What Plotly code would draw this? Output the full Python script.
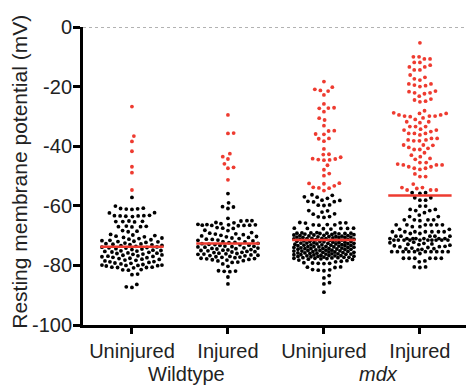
import numpy as np
import plotly.graph_objects as go

# ---------------- data (mV) ----------------
categories = ["Uninjured", "Injured", "Uninjured", "Injured"]
genotypes = ["Wildtype", "mdx"]
y_tick_values = [0, -20, -40, -60, -80, -100]
y_tick_labels = ["0", "-20", "-40", "-60", "-80", "-100"]

wt_uninjured_red = [-26.7, -36.6, -38.4, -41.7, -46.9, -48.9, -54.7]
wt_uninjured_black = [
    -57.2, -60.1, -60.8, -61.0, -61.1, -61.2, -60.9, -62.3, -62.4,
    -63.2, -63.3, -63.4, -63.4, -63.5, -63.6, -63.3, -65.1, -65.2, -65.3, -65.4, -65.3,
    -66.9, -67.0, -67.1, -67.0, -66.8, -68.3, -68.5, -68.7,
    -69.6, -69.8, -70.0, -70.2, -70.4, -70.6, -70.8, -71.0, -71.2, -71.4, -71.6,
    -71.7, -71.9, -72.0, -72.1, -72.3, -72.5, -72.7,
    -72.8, -72.9, -73.0, -73.1, -73.3, -73.4, -73.6, -73.8,
    -73.9, -74.0, -74.1, -74.2, -74.4, -74.5, -74.7, -74.9,
    -75.0, -75.1, -75.2, -75.3, -75.5, -75.6, -75.8, -75.9,
    -76.0, -76.2, -76.3, -76.5, -76.6, -76.8, -76.9,
    -77.0, -77.1, -77.3, -77.4, -77.6, -77.7, -77.9,
    -78.0, -78.2, -78.3, -78.5, -78.7, -78.8,
    -79.0, -79.2, -79.3, -79.5, -79.7,
    -79.9, -80.0, -80.0, -80.1, -79.9, -80.2,
    -80.6, -80.7, -80.8, -80.7, -80.6, -81.4, -81.5, -81.6,
    -82.9, -83.1, -86.4, -87.2, -87.4,
]

wt_injured_red = [-29.5, -35.6, -35.7, -42.5, -43.5, -44.3, -45.9, -47.1, -47.4, -51.3]
wt_injured_black = [
    -55.9, -59.0, -60.3, -60.4, -60.9,
    -64.2, -65.0, -65.0, -65.1, -65.6, -65.7, -66.0, -66.2, -66.3,
    -66.4, -66.5, -66.6, -66.5, -66.7, -66.6, -66.4,
    -67.3, -67.5, -67.6, -68.2, -68.3,
    -69.0, -69.2, -69.4, -69.5, -69.7, -69.9,
    -70.1, -70.3, -70.4, -70.6, -70.8, -71.0,
    -71.2, -71.3, -71.5, -71.6, -71.8, -72.0, -72.1,
    -72.3, -72.4, -72.6, -72.7, -72.9, -73.0, -73.2, -73.3,
    -73.5, -73.6, -73.8, -73.9, -74.1, -74.2, -74.4, -74.5,
    -74.7, -74.8, -75.0, -75.1, -75.3, -75.4, -75.6, -75.7,
    -75.9, -76.0, -76.2, -76.3, -76.5, -76.6, -76.8,
    -77.0, -77.1, -77.3, -77.4, -77.6, -77.8, -78.0, -78.2, -78.4,
    -73.1, -73.7, -74.3, -74.9, -75.5, -76.1, -76.7, -77.2, -77.7, -78.1, -78.5, -79.5,
    -78.9, -79.0, -80.3, -81.8, -81.9, -82.0, -82.1, -83.9, -86.2,
]

mdx_uninjured_red = [
    -18.3, -20.9, -21.5, -20.2, -21.3, -22.8, -25.8, -27.2, -27.1, -27.3, -28.4,
    -31.2, -30.6, -33.1, -34.8, -34.9, -35.9, -36.0, -37.4, -37.5, -38.3, -40.9,
    -42.7, -42.8, -43.7, -44.2, -44.3, -44.6, -44.5, -44.7, -46.4, -47.9, -49.2,
    -49.9, -52.5, -52.4, -52.6, -53.3, -53.8, -54.1, -54.0, -54.9,
]
mdx_uninjured_black = [
    -56.3, -56.5, -57.0, -57.1, -57.5, -58.1, -58.2, -58.5, -58.6, -58.7, -59.7,
    -59.8, -59.9, -61.6, -61.7, -62.1, -62.7, -62.8, -63.6, -63.7, -63.9, -65.6,
    -65.7, -65.7, -65.8, -66.3, -66.4, -66.4, -66.5,
    -67.5, -67.6, -67.6, -67.7, -67.5, -67.6, -67.8,
    -69.1, -69.2, -69.2, -69.3, -69.1, -69.0, -69.3, -69.2, -69.4, -69.1,
    -69.5, -69.6, -69.7, -69.8, -69.9, -70.0, -70.1, -70.2, -70.3, -70.4,
    -70.5, -70.6, -70.7, -70.8, -70.9, -71.0, -71.1, -71.2, -71.3, -71.4,
    -71.5, -71.6, -70.0, -70.3, -70.6, -70.9, -71.2, -71.5, -69.8, -70.5, -71.0,
    -71.8, -71.9, -72.0, -72.1, -72.2, -72.3, -72.4, -72.5, -72.6, -72.7,
    -72.8, -72.9, -73.0, -73.1, -73.2, -73.3, -73.4, -73.5, -73.6, -73.7,
    -73.8, -73.9, -74.0, -74.1, -74.2, -74.3, -74.4, -74.5, -74.6, -74.7,
    -74.8, -74.9, -75.0, -75.1, -75.2, -75.3, -75.4, -75.5, -75.6, -75.7,
    -75.8, -75.9, -76.0, -76.1, -76.2, -76.3, -76.4, -76.5, -76.6, -76.7,
    -76.8, -76.9, -77.0, -77.1, -77.2, -77.3, -77.4, -77.5, -77.6, -77.7,
    -77.8, -77.9, -78.0, -78.2, -78.4, -78.6, -78.8,
    -71.9, -72.2, -72.5, -72.8, -73.1, -73.4, -73.7, -74.0, -74.3, -74.6,
    -74.9, -75.2, -75.5, -75.8, -76.1, -76.4, -76.7, -77.0, -77.3, -77.6,
    -72.0, -72.6, -73.2, -73.8, -74.4, -75.0, -75.6, -76.2, -76.8, -77.4,
    -79.3, -79.2, -79.4, -79.3, -79.1, -80.6, -80.5, -80.7, -81.5, -81.4, -81.6,
    -81.8, -83.4, -84.2, -85.8, -86.2, -89.0,
]

mdx_injured_red = [
    -5.3, -10.0, -10.0, -10.7, -10.7, -11.9, -11.9, -12.8, -13.4, -13.4,
    -14.4, -14.4, -16.1, -16.9, -17.4, -17.8, -19.1, -19.1, -19.5, -19.7, -20.0,
    -21.5, -21.7, -22.1, -22.1, -22.4, -23.2, -24.2, -24.5, -24.9, -25.1,
    -28.1, -28.8, -29.0, -29.0, -29.5, -29.5, -29.9, -29.9, -29.9, -30.1, -30.5,
    -31.0, -31.8, -31.8, -32.1,
    -33.4, -33.4, -33.4, -34.3, -34.6, -34.6, -35.1, -35.7, -35.7, -35.7, -36.2,
    -37.4, -37.4, -37.9, -37.9, -38.2, -38.2,
    -39.6, -39.6, -39.7, -40.4, -40.7, -41.1, -41.1,
    -42.2, -43.0, -43.5, -44.1, -44.4,
    -45.5, -45.5, -46.0, -46.3, -46.3, -46.3, -46.9, -46.9, -47.4, -47.4,
    -47.8, -49.3, -50.2, -50.2, -52.7, -53.9, -53.9, -54.2, -54.7, -54.7, -54.7,
]
mdx_injured_black = [
    -55.6, -55.6, -55.8, -57.3, -57.3, -58.1, -58.1, -60.1, -60.1,
    -61.2, -61.2, -61.6, -61.6, -62.3, -63.1, -63.6, -63.6, -64.7, -64.7, -64.7, -64.7,
    -65.0, -66.4, -66.4, -66.4, -66.4, -66.4, -66.4, -67.0, -67.0,
    -67.9, -67.9, -68.7, -68.7, -68.7, -68.7, -68.7, -68.7, -68.7, -69.3, -69.3,
    -70.2, -70.2, -70.2, -70.2, -70.2,
    -71.0, -71.0, -71.0, -71.0, -71.0, -71.0, -71.0,
    -71.5, -71.5, -71.5, -71.5, -71.5, -71.5, -71.5, -71.5, -71.5, -71.5,
    -72.2, -72.4, -72.6, -72.8, -73.0, -73.2, -73.4, -73.6, -73.8, -74.0,
    -74.2, -74.4, -74.6, -74.8, -72.9, -73.7, -74.5,
    -75.4, -75.4, -75.4, -75.4, -75.4, -75.4, -75.4, -75.4, -75.4, -75.4,
    -76.0, -77.6, -77.6, -77.6, -77.6, -77.6, -77.6, -78.5, -78.8,
    -80.5, -80.5, -80.7,
]

groups_red = [wt_uninjured_red, wt_injured_red, mdx_uninjured_red, mdx_injured_red]
groups_black = [wt_uninjured_black, wt_injured_black, mdx_uninjured_black, mdx_injured_black]

# ---------------- styling / layout constants ----------------
W, H = 466, 388
ML, MR, MT, MB = 83, 0, 27, 63
X_RANGE = [-0.51, 3.48]
Y_RANGE = [-100, 0]
PX_PER_X = (W - ML - MR) / (X_RANGE[1] - X_RANGE[0])
PX_PER_Y = (H - MT - MB) / (Y_RANGE[1] - Y_RANGE[0])
DOT_GAP = 5.7      # minimum centre distance between dots, px
MAX_HALF = 30.0    # max half-width of a swarm, px
RED = "#EE3B30"
FONT = "Liberation Sans, Arial, sans-serif"


def swarm_offsets(values):
    """Beeswarm layout in pixel space; returns x offsets in data units."""
    ys = np.asarray(values, dtype=float) * PX_PER_Y
    order = np.argsort(ys, kind="stable")
    px, py = [], []
    out = np.zeros(len(ys))
    for k, i in enumerate(order):
        y = ys[i]
        nb = [(a, b) for a, b in zip(px, py) if abs(b - y) < DOT_GAP]
        cands = [0.0]
        for a, b in nb:
            dx = np.sqrt(DOT_GAP ** 2 - (b - y) ** 2)
            cands += [a + dx, a - dx]
        sgn = 1 if k % 2 else -1
        cands.sort(key=lambda c: (round(abs(c), 6), sgn * c))
        chosen = None
        for c in cands:
            if abs(c) > MAX_HALF:
                continue
            if all((c - a) ** 2 + (y - b) ** 2 >= DOT_GAP ** 2 - 1e-6 for a, b in nb):
                chosen = c
                break
        if chosen is None:
            grid = np.linspace(-MAX_HALF, MAX_HALF, 61)
            best, bestd = 0.0, -1
            for c in sorted(grid, key=abs):
                dmin = min(np.hypot(c - a, y - b) for a, b in nb)
                if dmin > bestd + 1e-9:
                    best, bestd = c, dmin
            chosen = best
        px.append(chosen)
        py.append(y)
        out[i] = chosen / PX_PER_X
    return out


fig = go.Figure()
for gi, (reds, blacks) in enumerate(zip(groups_red, groups_black)):
    vals = list(blacks) + list(reds)
    offs = swarm_offsets(vals)
    nb = len(blacks)
    xs = gi + offs
    fig.add_trace(go.Scatter(x=xs[:nb], y=blacks, mode="markers",
                             marker=dict(size=3.8, color="black", line=dict(width=0)),
                             showlegend=False, hoverinfo="skip", cliponaxis=False))
    fig.add_trace(go.Scatter(x=xs[nb:], y=reds, mode="markers",
                             marker=dict(size=3.8, color=RED, line=dict(width=0)),
                             showlegend=False, hoverinfo="skip", cliponaxis=False))
    med = float(np.median(vals))
    fig.add_trace(go.Scatter(x=[gi - 0.33, gi + 0.33], y=[med, med], mode="lines",
                             line=dict(color=RED, width=2.5),
                             showlegend=False, hoverinfo="skip"))

fig.add_shape(type="line", xref="paper", yref="y", x0=0, x1=1, y0=0, y1=0,
              line=dict(color="#666666", width=1, dash="dot"), layer="below")

fig.add_annotation(x=0.57, y=-0.166, xref="x", yref="paper", text=genotypes[0],
                   xanchor="center", yanchor="middle", borderpad=0,
                   showarrow=False, font=dict(size=20, color="#222", family=FONT))
fig.add_annotation(x=2.57, y=-0.166, xref="x", yref="paper", text="<i>" + genotypes[1] + "</i>",
                   xanchor="center", yanchor="middle", borderpad=0,
                   showarrow=False, font=dict(size=20, color="#222", family=FONT))
# y-axis title
fig.add_annotation(x=-0.168, y=0.513, xref="paper", yref="paper",
                   text="Resting membrane potential (mV)", textangle=-90,
                   xanchor="center", yanchor="middle",
                   showarrow=False, font=dict(size=21, color="#222", family=FONT))

fig.update_layout(
    width=W, height=H,
    margin=dict(l=ML, r=MR, t=MT, b=MB, autoexpand=False),
    paper_bgcolor="white", plot_bgcolor="white",
    font=dict(family=FONT, color="#222"),
    xaxis=dict(range=X_RANGE, tickvals=[0, 1, 2, 3], ticktext=categories,
               showline=True, linewidth=3, linecolor="black", mirror=False,
               ticks="outside", ticklen=6, tickwidth=3, tickcolor="black",
               tickfont=dict(size=20, color="#222"), showgrid=False, zeroline=False,
               automargin=False),
    yaxis=dict(range=Y_RANGE, tickvals=y_tick_values, ticktext=y_tick_labels,
               showline=True, linewidth=3, linecolor="black",
               ticks="outside", ticklen=7, tickwidth=3, tickcolor="black",
               tickfont=dict(size=20, color="#222"), showgrid=False, zeroline=False,
               automargin=False, ticklabelstandoff=-3),
)

fig.write_html("out.html", config={"displayModeBar": False},
               post_script="document.body.style.margin='0px';"
                           "document.body.style.overflow='hidden';")
